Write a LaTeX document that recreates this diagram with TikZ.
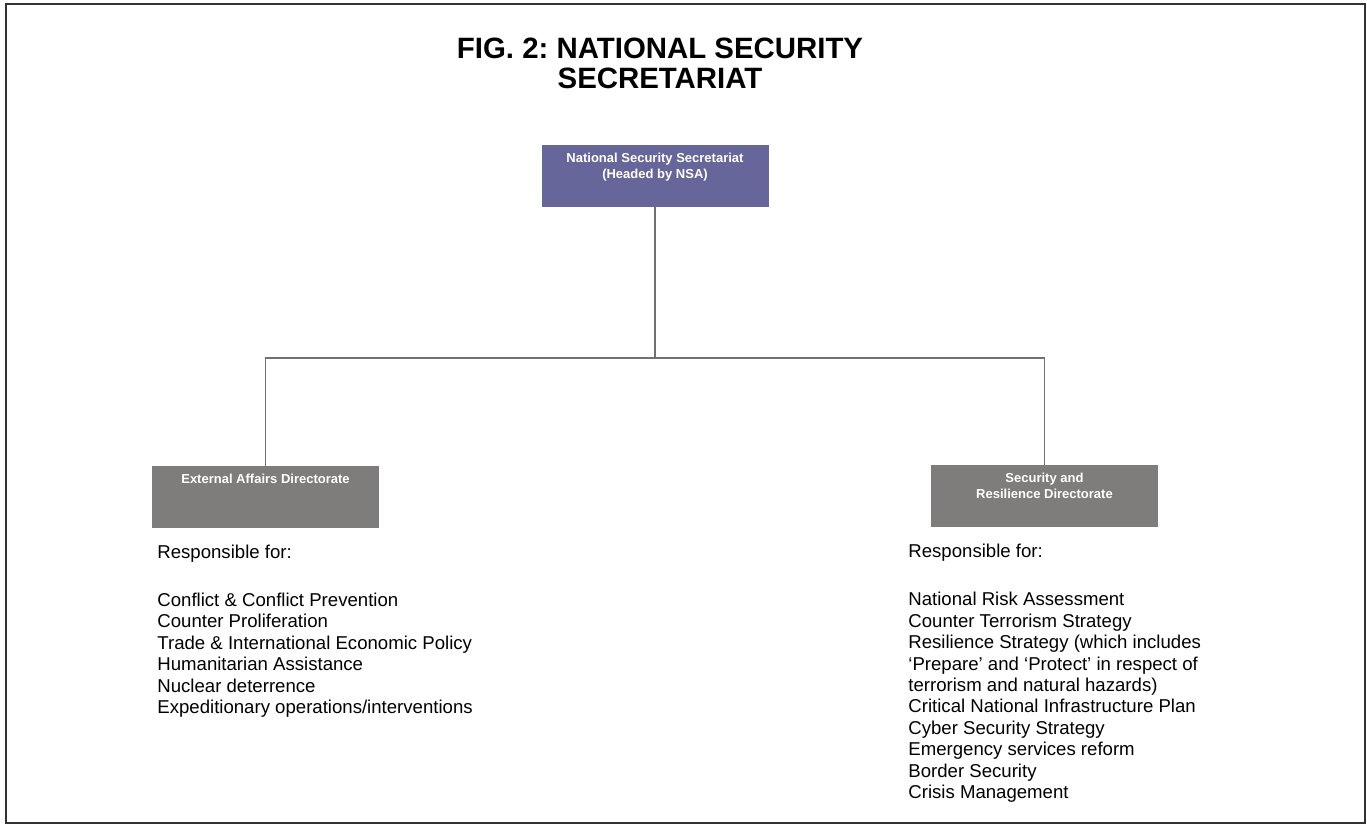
\documentclass[tikz,border=0pt]{standalone}
\usepackage{xcolor}
\usepackage{fontspec}
\setmainfont{Liberation Sans}
\usepackage{tikz}
\usetikzlibrary{calc}
\usetikzlibrary{positioning}
\definecolor{nssblue}{RGB}{102,102,154}
\definecolor{dirgray}{RGB}{127,125,124}
\definecolor{linkgray}{RGB}{112,112,112}
\definecolor{framegray}{RGB}{50,50,50}
\tikzset{>=latex}
\newcommand{\boxlines}[1]{\begin{tabular}[t]{@{}c@{}}#1\end{tabular}}
\tikzstyle{topbox} = [draw=none, fill = nssblue, text = white, font = \fontsize{6.5}{8}\selectfont\bfseries, minimum width = 113.5pt, inner ysep = 3pt, text height = 5.5pt, text depth = 19.5pt]
\tikzstyle{dirbox} = [topbox, fill = dirgray]
\tikzstyle{link} = [-, draw = linkgray, line width = 0.8pt]
\tikzstyle{duties} = [draw=none, inner sep = 0, anchor = base west, align = left, font = \fontsize{9.3}{10.7}\selectfont]

\begin{document}
\begin{tikzpicture}[x=0.5pt, y=-0.5pt]
\useasboundingbox (0,0) rectangle (1367,825);
\draw [draw = framegray, line width = 1pt] (6,4) rectangle (1365,823);
\node [draw=none, inner sep = 0, anchor = base, align = center, font = \fontsize{14.7}{15}\selectfont\bfseries\frenchspacing] (title) at (660,88) {FIG. 2: NATIONAL SECURITY\\SECRETARIAT};
\node [topbox] (nss) at (655,176) {\boxlines{National Security Secretariat\\(Headed by NSA)}};
\node [dirbox] (ead) at (265.5,497) {\boxlines{External Affairs Directorate}};
\node [dirbox] (srd) at (1044.5,496) {\boxlines{Security and\\Resilience Directorate}};
\coordinate (hub) at (655,358);
\draw [link] (nss.south) -- (hub);
\draw [link] (ead.north) |- (hub) -| (srd.north);
\node [duties] (eadresp) at (157,558) {Responsible for:};
% anchored at the baseline of the last line
\node [duties] (eadlist) at (157,713.5) {Conflict \& Conflict Prevention\\Counter Proliferation\\Trade \& International Economic Policy\\Humanitarian Assistance\\Nuclear deterrence\\Expeditionary operations/interventions};
\node [duties] (srdresp) at (908,557.5) {Responsible for:};
\node [duties] (srdlist) at (908,798.5) {National Risk Assessment\\Counter Terrorism Strategy\\Resilience Strategy (which includes\\‘Prepare’ and ‘Protect’ in respect of\\terrorism and natural hazards)\\Critical National Infrastructure Plan\\Cyber Security Strategy\\Emergency services reform\\Border Security\\Crisis Management};
\end{tikzpicture}
\end{document}
